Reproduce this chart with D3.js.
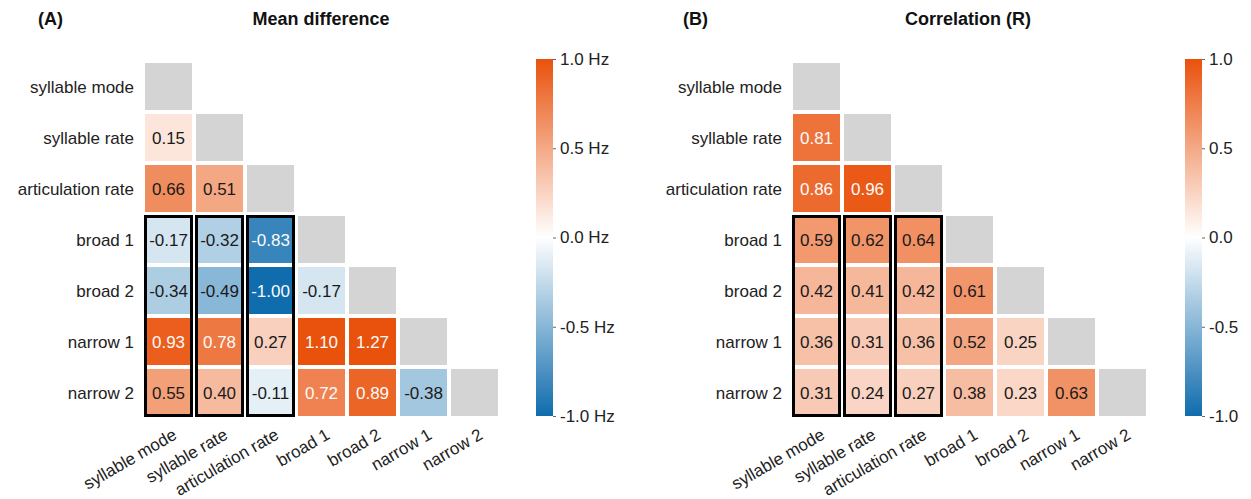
<!DOCTYPE html>
<html>
<head>
<meta charset="utf-8">
<script src="https://cdn.jsdelivr.net/npm/d3@7"></script>
<style>
    body { margin: 0; background: #fff; }
    text { font-family: "Liberation Sans", Arial, sans-serif; }
</style>
</head>
<body>
<svg id="chart" width="1251" height="499"></svg>
<script>
// variable names (rows and columns)
let variables = ["syllable mode", "syllable rate", "articulation rate", "broad 1", "broad 2", "narrow 1", "narrow 2"];

// lower triangle values, row by row (row i has i values)
let meanDiffRows = [
    [],
    [0.15],
    [0.66, 0.51],
    [-0.17, -0.32, -0.83],
    [-0.34, -0.49, -1.00, -0.17],
    [0.93, 0.78, 0.27, 1.10, 1.27],
    [0.55, 0.40, -0.11, 0.72, 0.89, -0.38]
];
let corrRows = [
    [],
    [0.81],
    [0.86, 0.96],
    [0.59, 0.62, 0.64],
    [0.42, 0.41, 0.42, 0.61],
    [0.36, 0.31, 0.36, 0.52, 0.25],
    [0.31, 0.24, 0.27, 0.38, 0.23, 0.63]
];

// colour bar ticks
let barTicks = [1, 0.5, 0, -0.5, -1];
let meanDiffTickLabels = ["1.0 Hz", "0.5 Hz", "0.0 Hz", "-0.5 Hz", "-1.0 Hz"];
let corrTickLabels = ["1.0", "0.5", "0.0", "-0.5", "-1.0"];

const svg = d3.select("#chart");
const step = 51, gap = 4, top0 = 61;

// blue - white - orange, clamped to [-1, 1]
const color = d3.scaleLinear()
    .domain([-1, 0, 1])
    .range(["#0f6cad", "#ffffff", "#e9520c"])
    .clamp(true);

drawPanel({ x0: 143, rows: meanDiffRows, tag: "(A)", tagX: 38, title: "Mean difference", titleX: 321,
    barX: 536, tickLabels: meanDiffTickLabels, id: "a" });
drawPanel({ x0: 791, rows: corrRows, tag: "(B)", tagX: 683, title: "Correlation (R)", titleX: 968,
    barX: 1185, tickLabels: corrTickLabels, id: "b" });

function drawPanel(p) {
    let g = svg.append("g");
    let n = variables.length;

    let x = d3.scaleBand().domain(variables).range([p.x0, p.x0 + n * step]);
    let y = d3.scaleBand().domain(variables).range([top0, top0 + n * step]);

    // titles
    g.append("text").text(p.tag)
        .attr("x", p.tagX).attr("y", 25)
        .style("font-size", "18px").style("font-weight", "bold").attr("fill", "#111");
    g.append("text").text(p.title)
        .attr("x", p.titleX).attr("y", 25).attr("text-anchor", "middle")
        .style("font-size", "18px").style("font-weight", "bold").attr("fill", "#111");

    // flatten the triangle into cells
    let cells = [];
    p.rows.forEach(function (row, i) {
        row.forEach(function (v, j) {
            cells.push({ r: variables[i], c: variables[j], v: v });
        });
    });
    let diag = variables.map(function (d) { return { r: d, c: d }; });

    g.selectAll("rect.diag").data(diag).join("rect").classed("diag", true)
        .attr("x", d => x(d.c) + gap / 2).attr("y", d => y(d.r) + gap / 2)
        .attr("width", x.bandwidth() - gap).attr("height", y.bandwidth() - gap)
        .attr("fill", "#d4d4d4");

    g.selectAll("rect.cell").data(cells).join("rect").classed("cell", true)
        .attr("x", d => x(d.c) + gap / 2).attr("y", d => y(d.r) + gap / 2)
        .attr("width", x.bandwidth() - gap).attr("height", y.bandwidth() - gap)
        .attr("fill", d => color(d.v));

    g.selectAll("text.val").data(cells).join("text").classed("val", true)
        .text(d => d.v.toFixed(2))
        .attr("x", d => x(d.c) + x.bandwidth() / 2)
        .attr("y", d => y(d.r) + y.bandwidth() / 2)
        .attr("dy", "0.36em").attr("text-anchor", "middle")
        .style("font-size", "17px")
        .attr("fill", d => Math.abs(d.v) >= 0.7 ? "#fafafa" : "#1a1a1a");

    // black outlines: one per column for the rate x spectral block
    let boxCols = variables.slice(0, 3);
    g.selectAll("rect.box").data(boxCols).join("rect").classed("box", true)
        .attr("x", d => x(d) + gap / 2 + 0.5).attr("y", y("broad 1") + gap / 2 + 0.5)
        .attr("width", x.bandwidth() - gap - 1)
        .attr("height", y("narrow 2") + y.bandwidth() - y("broad 1") - gap - 1)
        .attr("fill", "none").attr("stroke", "#000").attr("stroke-width", 3);

    // row labels
    g.selectAll("text.rowlab").data(variables).join("text").classed("rowlab", true)
        .text(d => d)
        .attr("x", p.x0 - 9).attr("y", d => y(d) + y.bandwidth() / 2)
        .attr("dy", "0.36em").attr("text-anchor", "end")
        .style("font-size", "17px").attr("fill", "#222");

    // column labels, slanted
    let yBottom = top0 + n * step;
    g.selectAll("text.collab").data(variables).join("text").classed("collab", true)
        .text(d => d)
        .attr("text-anchor", "end")
        .attr("dy", "0.75em")
        .attr("transform", d => `translate(${x(d) + x.bandwidth() / 2 + 3}, ${yBottom + 9}) rotate(-30)`)
        .style("font-size", "17px").attr("fill", "#222");

    // colour bar
    let barTop = 59, barBottom = 416, barW = 17;
    let grad = svg.append("defs").append("linearGradient")
        .attr("id", "grad-" + p.id)
        .attr("x1", 0).attr("y1", 1).attr("x2", 0).attr("y2", 0);
    d3.range(0, 1.0001, 0.05).forEach(function (t) {
        grad.append("stop").attr("offset", t).attr("stop-color", color(-1 + 2 * t));
    });
    g.append("rect")
        .attr("x", p.barX).attr("y", barTop)
        .attr("width", barW).attr("height", barBottom - barTop)
        .attr("fill", `url(#grad-${p.id})`);

    let barScale = d3.scaleLinear().domain([-1, 1]).range([barBottom, barTop]);
    let axis = d3.axisRight(barScale)
        .tickValues(barTicks)
        .tickSize(3).tickPadding(4)
        .tickFormat((d, i) => p.tickLabels[i]);
    let ag = g.append("g")
        .attr("transform", `translate(${p.barX + barW}, 0)`)
        .call(axis);
    ag.select(".domain").remove();
    ag.selectAll(".tick line").attr("stroke", "#666");
    ag.selectAll(".tick text")
        .style("font-size", "17px").style("font-family", "Liberation Sans, Arial, sans-serif")
        .attr("fill", "#222");
}
</script>
</body>
</html>
